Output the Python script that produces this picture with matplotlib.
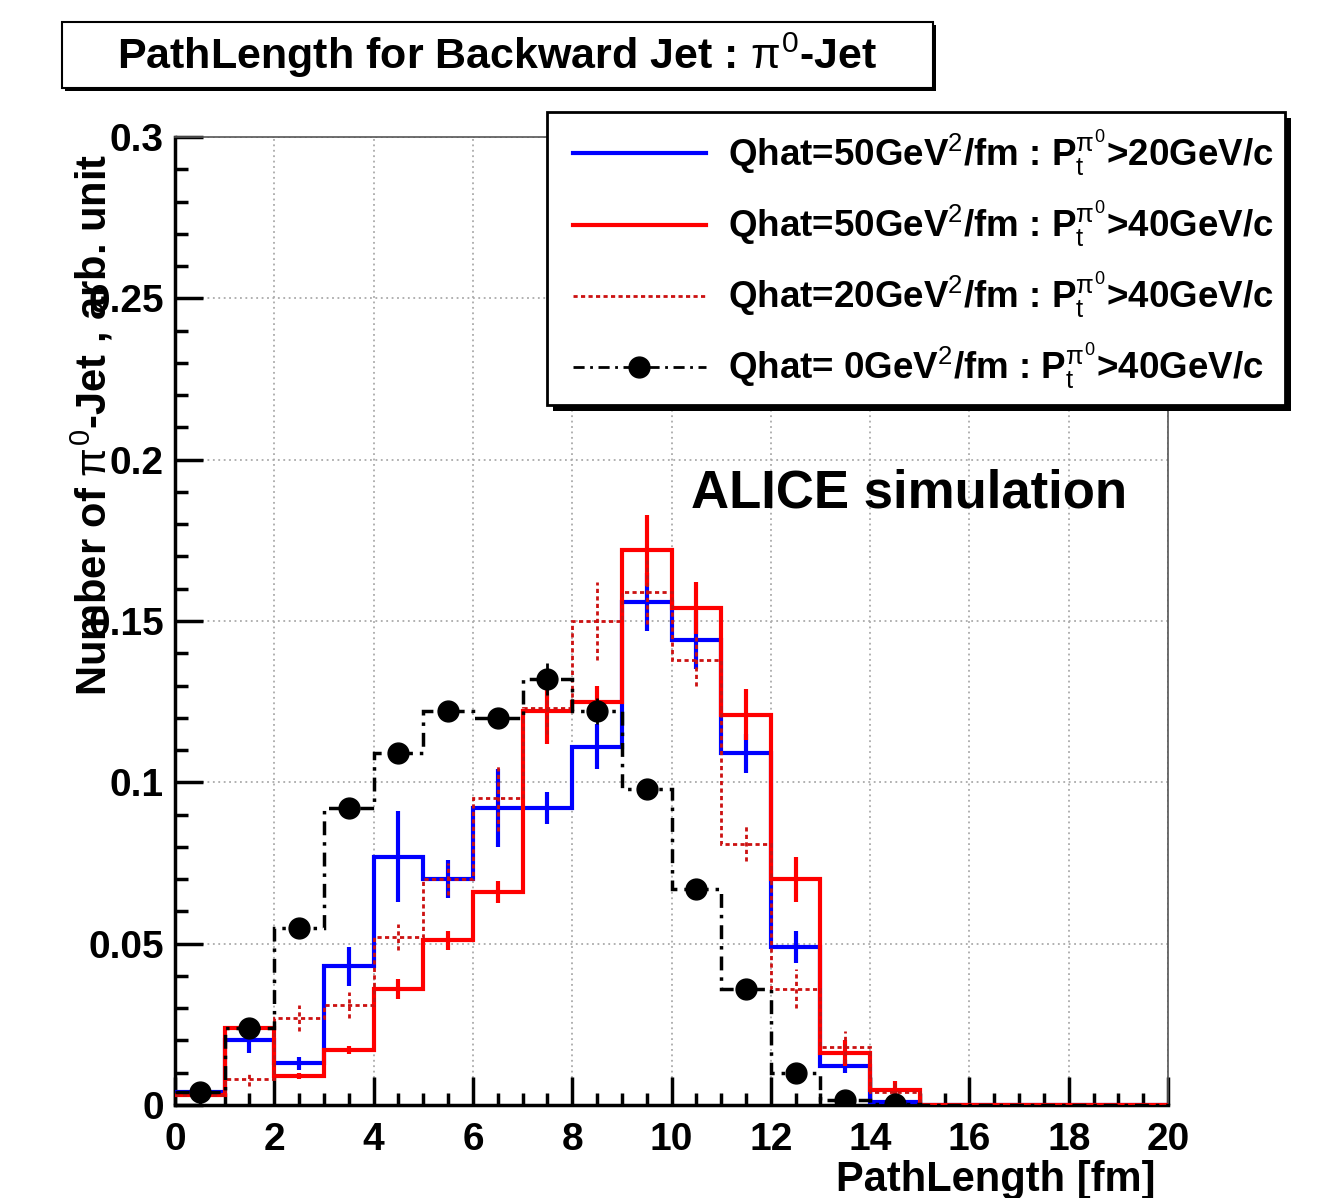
import numpy as np
import matplotlib
matplotlib.use('Agg')
import matplotlib.pyplot as plt
from matplotlib.patches import Rectangle
from matplotlib.lines import Line2D
from matplotlib.ticker import MultipleLocator

plt.rcParams['font.family'] = ['Liberation Sans', 'DejaVu Sans']
plt.rcParams['mathtext.fontset'] = 'custom'
plt.rcParams['mathtext.rm'] = 'Liberation Sans'
plt.rcParams['mathtext.it'] = 'Liberation Sans'
plt.rcParams['mathtext.bf'] = 'Liberation Sans:bold'

# bin edges of the path length histogram [fm]
edges = np.arange(0, 21, 1)
centers = edges[:-1] + 0.5

# Qhat=50, pt>20
blue = [0.004, 0.020, 0.013, 0.043, 0.077, 0.070, 0.092, 0.092, 0.111, 0.156,
        0.144, 0.109, 0.049, 0.012, 0.001, 0, 0, 0, 0, 0]
blue_err = [0.001, 0.004, 0.002, 0.006, 0.014, 0.006, 0.012, 0.005, 0.007, 0.009,
            0.009, 0.006, 0.005, 0.002, 0.001, 0, 0, 0, 0, 0]
# Qhat=50, pt>40
red = [0.003, 0.024, 0.009, 0.017, 0.036, 0.051, 0.066, 0.122, 0.125, 0.172,
       0.154, 0.121, 0.070, 0.016, 0.0045, 0, 0, 0, 0, 0]
red_err = [0.001, 0.002, 0.001, 0.0012, 0.003, 0.003, 0.0035, 0.010, 0.005, 0.011,
           0.008, 0.008, 0.007, 0.004, 0.003, 0, 0, 0, 0, 0]
# Qhat=20, pt>40
dotted = [0.003, 0.008, 0.027, 0.031, 0.052, 0.070, 0.095, 0.123, 0.150, 0.159,
          0.138, 0.081, 0.036, 0.018, 0.004, 0, 0, 0, 0, 0]
dotted_err = [0.001, 0.002, 0.004, 0.004, 0.004, 0.005, 0.010, 0.008, 0.012, 0.010,
              0.008, 0.0055, 0.006, 0.005, 0.003, 0, 0, 0, 0, 0]
# Qhat=0, pt>40
black = [0.004, 0.024, 0.055, 0.092, 0.109, 0.122, 0.120, 0.132, 0.122, 0.098,
         0.067, 0.036, 0.010, 0.0015, 0.0003, 0, 0, 0, 0, 0]
black_err = [0.001, 0.002, 0.003, 0.003, 0.003, 0.003, 0.003, 0.005, 0.004, 0.003,
             0.003, 0.002, 0.002, 0.001, 0.0005, 0, 0, 0, 0, 0]

labels = [r'Qhat=50GeV$^{2}$/fm : P$_{t}^{\pi^{0}}$>20GeV/c',
          r'Qhat=50GeV$^{2}$/fm : P$_{t}^{\pi^{0}}$>40GeV/c',
          r'Qhat=20GeV$^{2}$/fm : P$_{t}^{\pi^{0}}$>40GeV/c',
          r'Qhat= 0GeV$^{2}$/fm : P$_{t}^{\pi^{0}}$>40GeV/c']

W, H = 1334, 1198
fig = plt.figure(figsize=(W / 100, H / 100), dpi=100)
ax = fig.add_axes([175 / W, 1 - 1105 / H, (1168 - 175) / W, (1105 - 137) / H])

ax.stairs(blue, edges, baseline=None, color='#0000ff', lw=3, zorder=3)
ax.vlines(centers, np.array(blue) - blue_err, np.array(blue) + blue_err, color='#0000ff', lw=3, zorder=3)
ax.stairs(red, edges, baseline=None, color='#ff0000', lw=3, zorder=4)
ax.vlines(centers, np.array(red) - red_err, np.array(red) + red_err, color='#ff0000', lw=3, zorder=4)
ax.stairs(dotted, edges, baseline=None, color='#cc1111', lw=2, ls=(0, (1.5, 1.2)), zorder=5)
ax.vlines(centers, np.array(dotted) - dotted_err, np.array(dotted) + dotted_err,
          color='#cc1111', lw=2, ls=(0, (1.5, 1.2)), zorder=5)
ax.stairs(black, edges, baseline=None, color='black', lw=2.5, ls=(0, (4, 2, 1, 2)), zorder=6)
ax.vlines(centers, np.array(black) - black_err, np.array(black) + black_err, color='black', lw=2, zorder=6)
bk = np.array(black)
ax.plot(centers[bk > 0], bk[bk > 0], 'o', color='black', ms=15, zorder=7)

ax.set_xlim(0, 20)
ax.set_ylim(0, 0.3)
ax.set_xticks(range(0, 21, 2))
ax.xaxis.set_minor_locator(MultipleLocator(0.5))
ax.set_yticks([0, 0.05, 0.1, 0.15, 0.2, 0.25, 0.3])
ax.set_yticklabels(['0', '0.05', '0.1', '0.15', '0.2', '0.25', '0.3'])
ax.yaxis.set_minor_locator(MultipleLocator(0.01))
ax.tick_params(which='both', direction='in', top=False, right=False, width=2.5,
               labelsize=28, colors='black')
ax.tick_params(which='major', length=20)
ax.tick_params(which='minor', length=9)
ax.tick_params(axis='x', pad=12)
ax.tick_params(axis='y', pad=8)
for lab in ax.get_xticklabels() + ax.get_yticklabels():
    lab.set_fontweight('bold')
ax.grid(True, which='major', color='#aaaaaa', ls=(0, (1, 2)), lw=1.3)
ax.set_axisbelow(True)
for s in ['left', 'bottom']:
    ax.spines[s].set_linewidth(2.5)
for s in ['top', 'right']:
    ax.spines[s].set_linewidth(1.2)
    ax.spines[s].set_color('#555555')

ax.text(0.52, 0.632, 'ALICE simulation', transform=ax.transAxes, fontsize=38,
        fontweight='bold', ha='left', va='center', family='Liberation Sans')

fig.text(92 / W, 1 - 425 / H, r'Number of $\pi^{0}$-Jet , arb. unit', rotation=90,
         ha='center', va='center', fontsize=30, fontweight='bold')
fig.text(1155 / W, 1 - 1180 / H, 'PathLength [fm]', ha='right', va='center',
         fontsize=30, fontweight='bold')

# title box with shadow
fig.patches.append(Rectangle((65 / W, 1 - 91 / H), (933 - 62) / W, (88 - 22) / H,
                             transform=fig.transFigure, facecolor='black', zorder=4))
fig.patches.append(Rectangle((62 / W, 1 - 88 / H), (933 - 62) / W, (88 - 22) / H,
                             transform=fig.transFigure, facecolor='white',
                             edgecolor='black', lw=1.5, zorder=4))
fig.text(497 / W, 1 - 55 / H, r'PathLength for Backward Jet : $\pi^{0}$-Jet', ha='center',
         va='center', fontsize=31, fontweight='bold', zorder=5)

# legend box with shadow
fig.patches.append(Rectangle((553 / W, 1 - 411 / H), (1285 - 547) / W, (405 - 112) / H,
                             transform=fig.transFigure, facecolor='black', zorder=4))
fig.patches.append(Rectangle((547 / W, 1 - 405 / H), (1285 - 547) / W, (405 - 112) / H,
                             transform=fig.transFigure, facecolor='white',
                             edgecolor='black', lw=2, zorder=4))
handles = [Line2D([], [], color='#0000ff', lw=3),
           Line2D([], [], color='#ff0000', lw=3),
           Line2D([], [], color='#cc1111', lw=2, ls=(0, (1.5, 1.2))),
           Line2D([], [], color='black', lw=2, ls=(0, (4, 2, 1, 2)), marker='o', ms=15)]
leg = fig.legend(handles, labels, loc='center left', bbox_to_anchor=(573 / W, 1 - 260 / H),
                 frameon=False, fontsize=26.5, handlelength=3.6, handletextpad=0.6,
                 labelspacing=0.55, borderpad=0, borderaxespad=0)
leg.set_zorder(6)
for t in leg.get_texts():
    t.set_fontweight('bold')

fig.savefig('out.png', dpi=100)
